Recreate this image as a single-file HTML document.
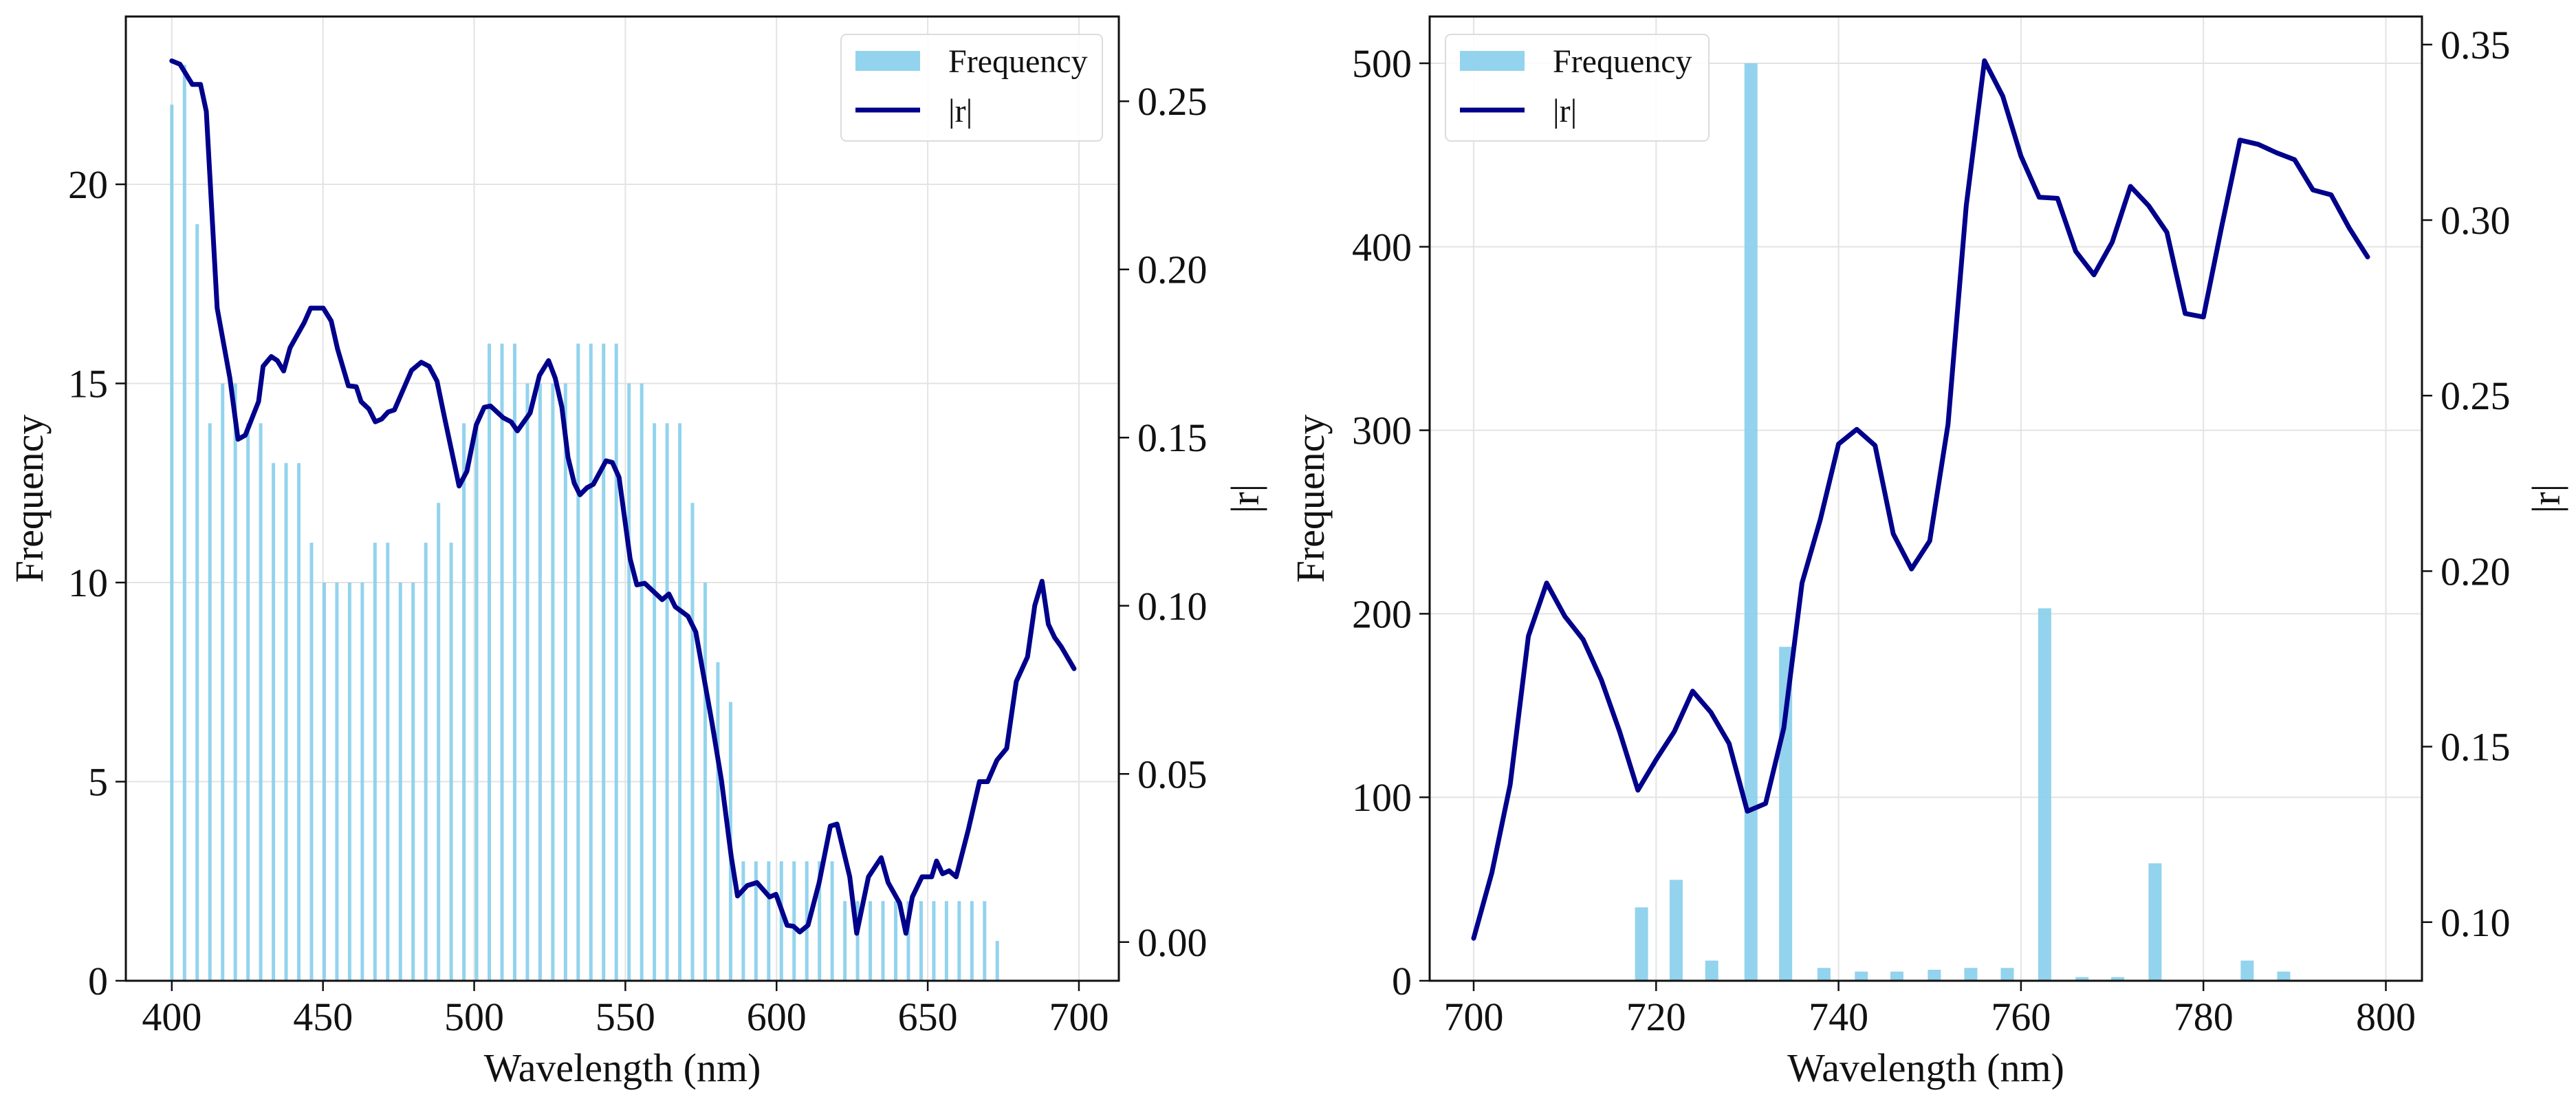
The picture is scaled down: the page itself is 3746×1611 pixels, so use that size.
<!DOCTYPE html>
<html><head><meta charset="utf-8"><style>
html,body{margin:0;padding:0;background:#fff}
svg{display:block}
text{font-family:"Liberation Serif",serif;fill:#111}
</style></head><body>
<svg id="c" width="3746" height="1611" viewBox="0 0 3746 1611" xmlns="http://www.w3.org/2000/svg"></svg>
<script>
// ---- Left panel data ----
const leftBarStart = 400, leftBarStep = 4.2;
const leftFreq = [22,23,19,14,15,15,14,14,13,13,13,11,10,10,10,10,11,11,10,10,11,12,11,14,14,16,16,16,15,15,15,15,16,16,16,
  16,15,15,14,14,14,12,10,8,7,3,3,3,3,3,3,3,3,2,2,2,2,2,2,2,2,2,2,2,2,1];
const leftLineX = [400,402.7,406.8,409.5,411.4,415.0,419.2,421.9,424.3,428.7,430.2,432.9,434.9,437.0,439.1,443.8,445.9,450.1,452.7,454.8,458.4,461.0,462.6,465.2,467.3,469.4,471.5,473.6,479.3,482.5,485.1,487.7,490.3,495.0,497.6,500.7,503.3,505.4,509.6,512.2,514.3,518.5,521.6,524.6,526.8,529.0,531.0,533.1,535.0,537.3,539.4,543.6,545.7,547.9,551.6,553.8,556.4,562.2,564.4,566.5,570.7,573.3,578.6,581.8,585.0,587.1,590.3,593.5,597.7,599.8,603.5,605.6,607.7,610.4,614.1,617.8,620.0,624.2,626.5,630.4,634.6,636.9,640.7,642.8,644.9,648.1,651.3,652.9,654.9,657.1,659.4,663.4,667.1,669.8,672.9,676.1,679.3,683.0,685.4,687.8,689.9,692.0,694.1,698.4];
const leftLineR = [0.262,0.261,0.255,0.255,0.247,0.1885,0.1677,0.1495,0.1507,0.1607,0.1712,0.1741,0.1729,0.1698,0.1767,0.1842,0.1885,0.1885,0.1847,0.1764,0.1654,0.1651,0.1607,0.1585,0.1547,0.1555,0.1576,0.1582,0.1700,0.1724,0.1712,0.1668,0.1555,0.1356,0.1400,0.1538,0.1590,0.1594,0.1559,0.1547,0.1520,0.1573,0.1685,0.1729,0.1677,0.1590,0.1442,0.1364,0.1330,0.1351,0.1361,0.1431,0.1426,0.1382,0.1139,0.1062,0.1067,0.1018,0.1035,0.0997,0.0969,0.0922,0.0654,0.0480,0.0255,0.0137,0.0168,0.0177,0.0134,0.0142,0.0050,0.0047,0.0030,0.0050,0.0177,0.0345,0.0351,0.0194,0.0026,0.0194,0.0251,0.0177,0.0116,0.0026,0.0134,0.0194,0.0194,0.0241,0.0203,0.0212,0.0194,0.0333,0.0477,0.0477,0.0541,0.0576,0.0775,0.0848,0.1001,0.1073,0.0945,0.0905,0.0879,0.0813];
const leftXTicks = [400,450,500,550,600,650,700];
const leftYTicks = [0,5,10,15,20];
const leftRTicks = [0.00,0.05,0.10,0.15,0.20,0.25];

// ---- Right panel data ----
const rightBarX = [718.4,722.2,726.1,730.4,734.2,738.4,742.5,746.4,750.5,754.5,758.5,762.6,766.7,770.6,774.7,784.8,788.8];
const rightFreq = [40,55,11,500,182,7,5,5,6,7,7,203,2,2,64,11,5];
const rightLineX = [700,702,704,706,708,710,712,714,716,718,720,722,724,726,728,730,732,734,736,738,740,742,744,746,748,750,752,754,756,758,760,762,764,766,768,770,772,774,776,778,780,782,784,786,788,790,792,794,796,798];
const rightLineR = [0.0954,0.1141,0.1392,0.1815,0.1966,0.1871,0.1805,0.1690,0.1543,0.1376,0.1463,0.1543,0.1658,0.1598,0.1509,0.1316,0.1338,0.1553,0.1966,0.2147,0.2362,0.2404,0.2358,0.2106,0.2006,0.2086,0.2418,0.3041,0.3454,0.3353,0.3182,0.3065,0.3062,0.2911,0.2844,0.2937,0.3096,0.3041,0.2965,0.2734,0.2724,0.2981,0.3228,0.3216,0.3192,0.3172,0.3086,0.3072,0.2977,0.2895];
const rightXTicks = [700,720,740,760,780,800];
const rightYTicks = [0,100,200,300,400,500];
const rightRTicks = [0.10,0.15,0.20,0.25,0.30,0.35];

const NS = "http://www.w3.org/2000/svg";
const svg = document.getElementById('c');
function mk(tag, attrs, parent){ const e=document.createElementNS(NS,tag); for(const k in attrs) e.setAttribute(k,attrs[k]); (parent||svg).appendChild(e); return e; }

function panel(p){
  const g = mk('g',{});
  
  
  const sx = v => p.x0 + (v - p.xmin) / (p.xmax - p.xmin) * (p.x1 - p.x0);
  const sy = v => p.y1 - (v - p.ymin) / (p.ymax - p.ymin) * (p.y1 - p.y0);
  const sr = v => p.y1 - (v - p.rmin) / (p.rmax - p.rmin) * (p.y1 - p.y0);
  // grid
  p.xticks.forEach(t=>{ const l=mk('line',{x1:sx(t),x2:sx(t),y1:p.y0,y2:p.y1,stroke:'#e3e3e3','stroke-width':2},g);
      });
  p.yticks.forEach(t=>{ const l=mk('line',{x1:p.x0,x2:p.x1,y1:sy(t),y2:sy(t),stroke:'#e3e3e3','stroke-width':2},g);
      });
  // bars
  p.barX.forEach((x,i)=>{
    const cx=sx(x), w=p.barW;
    const r=mk('rect',{x:cx-w/2,y:sy(p.barY[i]),width:w,height:p.y1-sy(p.barY[i]),fill:'#87CEEB','fill-opacity':0.9},g);
     
  });
  // line
  const d = p.lineX.map((x,i)=>(i?'L':'M')+sx(x).toFixed(1)+' '+sr(p.lineR[i]).toFixed(1)).join(' ');
  const pl=mk('path',{d:d,fill:'none',stroke:'#00008B','stroke-width':7,'stroke-linejoin':'round','stroke-linecap':'round'},g);
   
  // frame
  const fr=mk('rect',{x:p.x0,y:p.y0,width:p.x1-p.x0,height:p.y1-p.y0,fill:'none',stroke:'#111','stroke-width':3},g);
   
  // x ticks
  p.xticks.forEach(t=>{ mk('line',{x1:sx(t),x2:sx(t),y1:p.y1,y2:p.y1+15,stroke:'#111','stroke-width':2.5},g);
    const tx=mk('text',{x:sx(t),y:p.y1+72,'font-size':58,'text-anchor':'middle'},g); tx.textContent=t;
      });
  p.yticks.forEach(t=>{ mk('line',{x1:p.x0-15,x2:p.x0,y1:sy(t),y2:sy(t),stroke:'#111','stroke-width':2.5},g);
    const tx=mk('text',{x:p.x0-26,y:sy(t)+20,'font-size':58,'text-anchor':'end'},g); tx.textContent=t;
      });
  p.rticks.forEach(t=>{ mk('line',{x1:p.x1,x2:p.x1+15,y1:sr(t),y2:sr(t),stroke:'#111','stroke-width':2.5},g);
    const tx=mk('text',{x:p.x1+27,y:sr(t)+20,'font-size':58,'text-anchor':'start'},g); tx.textContent=t.toFixed(2);
      });
  // axis titles
  const xt=mk('text',{x:(p.x0+p.x1)/2,y:1572,'font-size':58,'text-anchor':'middle'},g); xt.textContent='Wavelength (nm)';
   
  const yc=(p.y0+p.y1)/2;
  const yt=mk('text',{x:0,y:0,'font-size':58,'text-anchor':'middle',transform:`translate(${p.ylabX},${yc}) rotate(-90)`},g); yt.textContent='Frequency';
   
  const rt=mk('text',{x:0,y:0,'font-size':58,'text-anchor':'middle',transform:`translate(${p.rlabX},${yc}) rotate(-90)`},g); rt.textContent='|r|';
   
  // legend
  const lg=mk('g',{},g);
   
  mk('rect',{x:p.legX,y:50,width:p.legW,height:155,rx:8,fill:'#fff','fill-opacity':0.85,stroke:'#dcdcdc','stroke-width':2},lg);
  const lp=mk('rect',{x:p.legX+21,y:74,width:94,height:29,fill:'#87CEEB','fill-opacity':0.9},lg);
   
  const ll=mk('line',{x1:p.legX+21,x2:p.legX+115,y1:160,y2:160,stroke:'#00008B','stroke-width':7},lg);
   
  const t1=mk('text',{x:p.legX+156,y:105,'font-size':48},lg); t1.textContent='Frequency';
   
  const t2=mk('text',{x:p.legX+156,y:177,'font-size':48},lg); t2.textContent='|r|';
   
}

panel({name:'left-panel', x0:183,x1:1627,y0:24,y1:1426,
  xmin:384.8,xmax:713.2, ymin:0,ymax:(1426-24)/57.9, rmin:-0.0115,rmax:0.2752,
  barX:leftFreq.map((_,i)=>leftBarStart+i*leftBarStep), barY:leftFreq, barW:5,
  lineX:leftLineX,lineR:leftLineR, xticks:leftXTicks,yticks:leftYTicks,rticks:leftRTicks,
  ylabX:62, rlabX:1830, legX:1223, legW:380});
panel({name:'right-panel', x0:2079,x1:3522,y0:24,y1:1426,
  xmin:700-(2143-2079)/13.265, xmax:700+(3522-2143)/13.265, ymin:0,ymax:(1426-24)/2.668, rmin:0.0833,rmax:0.358,
  barX:rightBarX, barY:rightFreq, barW:19,
  lineX:rightLineX,lineR:rightLineR, xticks:rightXTicks,yticks:rightYTicks,rticks:rightRTicks,
  ylabX:1925, rlabX:3722, legX:2102, legW:383});
</script>
</body></html>
